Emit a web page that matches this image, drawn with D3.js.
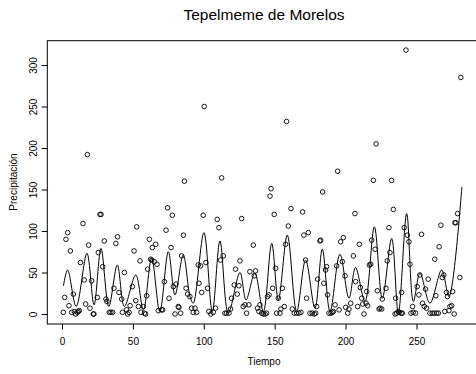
<!DOCTYPE html>
<html><head><meta charset="utf-8">
<script src="https://cdn.jsdelivr.net/npm/d3@7"></script>
<style>body{margin:0;background:#fff}svg{display:block}text{font-family:"Liberation Sans",Arial,Helvetica,sans-serif;fill:#000}</style>
</head><body><svg id="c" width="476" height="374"></svg>
<script>
const title = "Tepelmeme de Morelos";
const xLabel = "Tiempo";
const yLabel = "Precipitación";
const xTicks = [0, 50, 100, 150, 200, 250];
const yTicks = [0, 50, 100, 150, 200, 250, 300];
// observed points: time (month) and precipitation
const obsT = [0.9,1.9,2.8,4.0,4.9,5.9,6.8,8.0,8.7,9.6,10.8,11.5,12.2,13.0,14.8,15.7,16.7,17.9,18.8,19.7,20.9,22.0,22.5,24.9,25.6,26.8,27.5,28.7,29.8,31.0,31.7,33.4,34.5,35.7,36.6,38.0,39.2,40.2,
  42.1,42.6,44.0,45.6,46.3,47.3,48.0,49.6,50.8,52.0,52.7,53.9,55.0,55.7,57.4,58.1,59.0,59.7,60.4,61.6,62.5,63.3,63.7,65.1,66.1,67.0,68.0,70.3,71.0,72.2,73.4,74.5,75.5,76.9,77.8,78.5,79.7,80.4,82.0,82.5,83.7,84.4,85.6,86.3,87.5,88.6,
  90.2,91.4,92.6,93.8,94.9,96.1,96.6,97.7,98.5,99.6,100.3,101.5,102.7,103.6,105.0,106.7,108.3,109.5,110.7,111.8,112.6,113.7,114.9,116.0,117.7,118.9,119.6,121.5,122.4,123.6,124.8,125.5,126.7,127.8,129.0,130.2,131.8,132.5,134.9,135.6,136.5,137.9,138.9,
  139.6,140.8,142.0,143.2,144.3,145.0,146.0,146.7,147.4,148.6,149.7,150.7,151.4,152.6,153.7,154.4,155.4,156.8,157.7,158.4,159.6,161.5,162.4,163.8,165.5,167.1,168.5,169.7,170.6,171.8,172.5,173.7,174.9,176.5,177.9,178.9,179.6,180.3,181.9,182.4,183.8,184.7,185.9,186.6,187.3,188.3,
  189.7,190.7,191.4,192.6,193.7,194.4,195.4,196.5,197.7,198.4,199.6,200.1,201.5,202.4,203.6,205.5,206.6,207.1,208.5,209.7,210.4,211.4,212.1,213.0,214.4,214.9,215.6,216.8,217.7,218.4,219.6,220.8,221.5,222.4,223.6,224.3,225.5,225.9,228.5,229.4,230.6,231.3,232.5,233.7,234.9,235.3,236.0,237.2,237.9,
  239.2,239.5,240.0,241.4,242.6,243.5,244.7,245.4,246.1,247.3,247.7,249.4,250.5,251.7,252.4,253.6,254.3,255.5,256.4,257.1,258.3,259.5,261.1,262.5,262.9,263.7,264.2,265.4,266.0,267.2,268.2,269.3,270.0,271.2,271.9,272.9,273.6,274.8,275.5,276.6,277.1,277.8,279.0,280.6,281.3];
const obsV = [2,20,90,98,10,76,2,24,3,0,2,3,4,62,109,41,12,192,83,7,40,0,0,20,74,120,120,57,88,18,15,2,2,2,31,85,93,26,
  18,2,50,5,0,2,10,33,76,16,105,9,64,2,9,1,0,22,54,90,66,65,80,63,84,60,4,5,5,39,101,128,19,80,119,33,0,36,9,8,1,70,95,160,31,24,
  21,7,2,7,2,59,37,58,26,119,250,62,31,3,0,2,7,114,104,65,164,70,1,1,1,6,19,35,54,24,34,64,115,9,11,1,11,51,83,46,52,7,3,
  11,1,0,0,1,21,23,142,151,31,120,55,1,19,1,6,31,9,84,232,106,127,6,1,1,1,2,123,95,65,19,98,1,1,0,1,9,42,88,89,147,37,53,57,23,1,
  1,2,3,11,58,172,5,87,63,92,46,8,1,6,13,70,121,39,9,84,32,19,12,0,13,27,10,59,60,89,161,78,205,28,6,7,6,18,31,64,104,74,161,126,0,19,1,3,2,
  1,26,1,104,318,95,87,60,1,9,2,1,33,23,47,96,13,9,30,7,42,1,1,1,66,22,1,1,81,107,44,47,3,26,21,4,9,10,27,0,110,110,121,44,285];
// fitted curve: turning points
const fitT = [1,4,10,17.6,22.6,27.5,33,39,44,52,57.4,63.2,69,75,79.7,85.5,90.3,92.6,100.1,106,111.4,117.3,125.5,129.8,136,142,147.9,152.6,158.9,165.5,171.8,178.4,183.6,189,196,202.4,207,213.7,220.3,225.9,232.5,237.2,243.1,247.8,252.5,259.5,267.8,272.9,282];
const fitV = [34,53,9,73,11,79,9,59,9,47,5,67,3,75,23,71,21,13,98,3,88,1,50,17,49,3,85,17,95,3,65,7,78,3,72,19,56,15,105,19,91,1,121,15,49,13,53,21,153];

const svg = d3.select("#c");
const L = 47.3, R = 480.7, T = 40.7, B = 324;
const x = d3.scaleLinear().domain([-10.37, 295.3]).range([L, R]);
const y = d3.scaleLinear().domain([-12.06, 329.3]).range([B, T]);

svg.append("text").attr("x", 264).attr("y", 20).attr("text-anchor", "middle").style("font-size", "15.5px").text(title);

const gx = svg.append("g").attr("transform", `translate(0,${B})`)
  .call(d3.axisBottom(x).tickValues(xTicks).tickSize(5.5).tickPadding(8).tickFormat(d3.format("d")));
const gy = svg.append("g").attr("transform", `translate(${L},0)`)
  .call(d3.axisLeft(y).tickValues(yTicks).tickSize(5.5).tickFormat(d3.format("d")));
[gx, gy].forEach(g => { g.select(".domain").remove(); g.selectAll("line").attr("stroke", "#000"); g.selectAll("text").style("font-size", "10px").attr("fill", "#222"); });
gy.selectAll(".tick text").attr("text-anchor", "middle").attr("x", null).attr("y", 0).attr("dy", "0")
  .attr("transform", "translate(-10.5,0) rotate(-90)");
svg.append("rect").attr("x", L).attr("y", T).attr("width", R - L).attr("height", B - T).attr("fill", "none").attr("stroke", "#000").attr("stroke-width", 1);

svg.append("text").attr("x", 264).attr("y", 365).attr("text-anchor", "middle").style("font-size", "10px").text(xLabel);
svg.append("text").attr("transform", `translate(17,182) rotate(-90)`).attr("text-anchor", "middle").style("font-size", "10px").text(yLabel);

const pts = obsT.map((t, i) => [t, obsV[i]]);
svg.append("g").selectAll("circle").data(pts).join("circle")
  .attr("cx", d => x(d[0])).attr("cy", d => y(d[1])).attr("r", 2.3)
  .attr("fill", "none").attr("stroke", "#000").attr("stroke-width", 0.9);

const fit = fitT.map((t, i) => [t, fitV[i]]);
svg.append("path").datum(fit).attr("fill", "none").attr("stroke", "#000").attr("stroke-width", 1)
  .attr("d", d3.line().x(d => x(d[0])).y(d => y(d[1])).curve(d3.curveCatmullRom.alpha(0.5)));
</script></body></html>
